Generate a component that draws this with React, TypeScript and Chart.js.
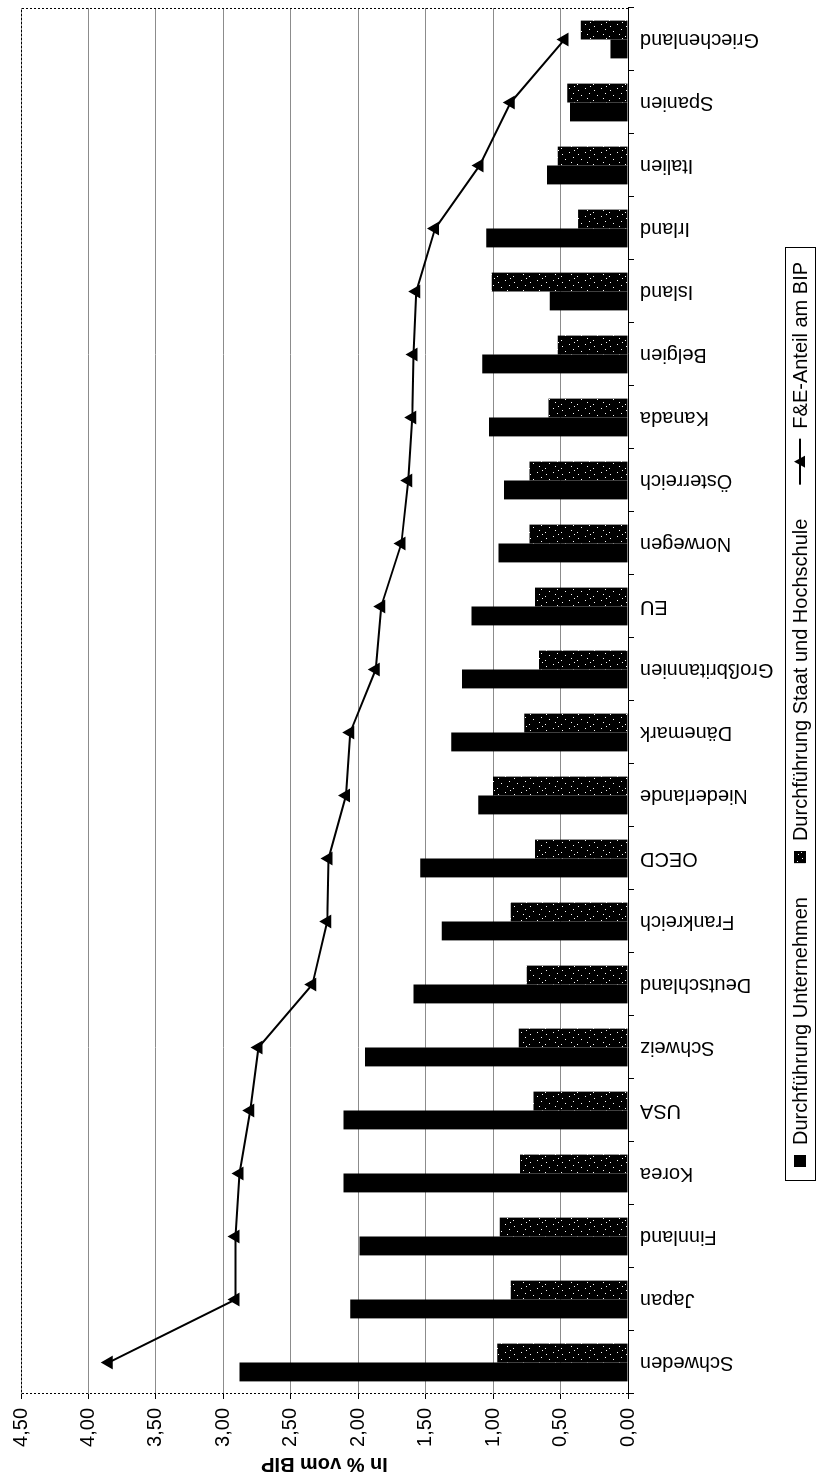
import React, { useEffect, useRef } from 'react';
import { Chart, registerables } from 'chart.js';

Chart.register(...registerables);

const categories = [
  'Schweden', 'Japan', 'Finnland', 'Korea', 'USA', 'Schweiz', 'Deutschland',
  'Frankreich', 'OECD', 'Niederlande', 'Dänemark', 'Großbritannien', 'EU',
  'Norwegen', 'Österreich', 'Kanada', 'Belgien', 'Island', 'Irland',
  'Italien', 'Spanien', 'Griechenland',
];

const unternehmen = [
  2.88, 2.06, 1.99, 2.11, 2.11, 1.95, 1.59, 1.38, 1.54, 1.11, 1.31, 1.23,
  1.16, 0.96, 0.92, 1.03, 1.08, 0.58, 1.05, 0.60, 0.43, 0.13,
];

const staatHochschule = [
  0.97, 0.87, 0.95, 0.80, 0.70, 0.81, 0.75, 0.87, 0.69, 1.00, 0.77, 0.66,
  0.69, 0.73, 0.73, 0.59, 0.52, 1.01, 0.37, 0.52, 0.45, 0.35,
];

const feAnteil = [
  3.85, 2.91, 2.91, 2.88, 2.80, 2.74, 2.34, 2.23, 2.22, 2.09, 2.06, 1.87,
  1.83, 1.68, 1.63, 1.60, 1.59, 1.57, 1.43, 1.10, 0.87, 0.47,
];

const seriesLabels = [
  'Durchführung Unternehmen',
  'Durchführung Staat und Hochschule',
  'F&E-Anteil am BIP',
];

const axisTitle = 'In % vom BIP';
const axisMin = 0;
const axisMax = 4.5;
const axisStep = 0.5;

const W = 1484;
const H = 818;
const FONT = '"Liberation Sans", Arial, sans-serif';
const FS = 20;
const LEGEND_CX = 770;
const LEGEND_CY = 800;

function makePattern(): CanvasPattern {
  const c = document.createElement('canvas');
  c.width = 16;
  c.height = 16;
  const g = c.getContext('2d')!;
  g.fillStyle = '#000';
  g.fillRect(0, 0, 16, 16);
  g.fillStyle = '#fff';
  const dots = [[1, 2], [7, 1], [12, 5], [3, 9], [9, 11], [14, 13], [5, 14]];
  dots.forEach(([x, y]) => g.fillRect(x, y, 1, 1));
  return g.createPattern(c, 'repeat')!;
}

const framePlugin = {
  id: 'frame',
  beforeDatasetsDraw(chart: any) {
    const { ctx, chartArea: a } = chart;
    ctx.save();
    ctx.strokeStyle = '#000';
    ctx.lineWidth = 1;
    ctx.setLineDash([2, 2]);
    ctx.beginPath();
    ctx.moveTo(a.left + 0.5, a.bottom);
    ctx.lineTo(a.left + 0.5, a.top + 0.5);
    ctx.lineTo(a.right - 0.5, a.top + 0.5);
    ctx.lineTo(a.right - 0.5, a.bottom);
    ctx.stroke();
    ctx.restore();
  },
};

function makeLegendPlugin(pattern: CanvasPattern) {
  return {
    id: 'customLegend',
    afterDraw(chart: any) {
      const ctx = chart.ctx as CanvasRenderingContext2D;
      ctx.save();
      ctx.font = `${FS}px ${FONT}`;
      ctx.textBaseline = 'middle';
      ctx.textAlign = 'left';
      const boxS = 12;
      const symLine = 46;
      const gap = 10;
      const itemGap = 34;
      const pad = 14;
      const items = [
        { kind: 'box', fill: '#000' as any, text: seriesLabels[0] },
        { kind: 'box', fill: pattern as any, text: seriesLabels[1] },
        { kind: 'line', fill: '#000' as any, text: seriesLabels[2] },
      ];
      const widths = items.map(
        (it) => (it.kind === 'line' ? symLine : boxS) + gap + ctx.measureText(it.text).width
      );
      const total = widths.reduce((a, b) => a + b, 0) + itemGap * (items.length - 1) + pad * 2;
      let x = Math.round(LEGEND_CX - total / 2);
      ctx.strokeStyle = '#000';
      ctx.lineWidth = 1;
      ctx.strokeRect(x + 0.5, LEGEND_CY - 15 + 0.5, Math.round(total), 30);
      x += pad;
      items.forEach((it, i) => {
        if (it.kind === 'box') {
          ctx.fillStyle = it.fill;
          ctx.fillRect(x, LEGEND_CY - boxS / 2, boxS, boxS);
          ctx.strokeRect(x + 0.5, LEGEND_CY - boxS / 2 + 0.5, boxS - 1, boxS - 1);
        } else {
          ctx.beginPath();
          ctx.moveTo(x, LEGEND_CY);
          ctx.lineTo(x + symLine, LEGEND_CY);
          ctx.lineWidth = 2;
          ctx.stroke();
          ctx.lineWidth = 1;
          const cx = x + symLine / 2;
          ctx.beginPath();
          ctx.moveTo(cx, LEGEND_CY - 6);
          ctx.lineTo(cx - 6, LEGEND_CY + 5);
          ctx.lineTo(cx + 6, LEGEND_CY + 5);
          ctx.closePath();
          ctx.fillStyle = '#000';
          ctx.fill();
        }
        const sw = it.kind === 'line' ? symLine : boxS;
        ctx.fillStyle = '#000';
        ctx.fillText(it.text, x + sw + gap, LEGEND_CY + 1);
        x += widths[i] + itemGap;
      });
      ctx.restore();
    },
  };
}

export default function App() {
  const ref = useRef<HTMLCanvasElement>(null);

  useEffect(() => {
    document.body.style.margin = '0';
    const canvas = ref.current!;
    const pattern = makePattern();
    const font = { family: FONT, size: FS };
    const chart = new Chart(canvas, {
      type: 'bar',
      data: {
        labels: categories,
        datasets: [
          {
            type: 'bar',
            label: seriesLabels[0],
            data: unternehmen,
            backgroundColor: '#000',
            borderWidth: 0,
            categoryPercentage: 0.6,
            barPercentage: 1.0,
            order: 2,
          },
          {
            type: 'bar',
            label: seriesLabels[1],
            data: staatHochschule,
            backgroundColor: pattern as any,
            borderWidth: 0,
            categoryPercentage: 0.6,
            barPercentage: 1.0,
            order: 2,
          },
          {
            type: 'line',
            label: seriesLabels[2],
            data: feAnteil,
            borderColor: '#000',
            borderWidth: 2,
            pointStyle: 'triangle',
            pointRadius: 6,
            pointBackgroundColor: '#000',
            pointBorderColor: '#000',
            tension: 0,
            order: 1,
          } as any,
        ],
      },
      options: {
        responsive: false,
        animation: false,
        devicePixelRatio: 1,
        layout: { padding: { left: 0, right: 7, top: 14, bottom: 33 } },
        plugins: { legend: { display: false }, tooltip: { enabled: false } },
        scales: {
          x: {
            offset: true,
            grid: {
              offset: true,
              drawOnChartArea: false,
              drawTicks: true,
              tickLength: 6,
              color: '#000',
            },
            border: { display: true, color: '#000', width: 1 },
            ticks: {
              autoSkip: false,
              minRotation: 90,
              maxRotation: 90,
              padding: 6,
              color: '#000',
              font,
            },
            afterFit(s: any) {
              s.height = 157;
            },
          },
          y: {
            min: axisMin,
            max: axisMax,
            ticks: {
              stepSize: axisStep,
              callback: (v: any) => Number(v).toFixed(2).replace('.', ','),
              padding: 9,
              color: '#000',
              font,
            },
            grid: { color: '#8c8c8c', tickColor: '#000', tickLength: 5 },
            border: { display: false },
            title: {
              display: true,
              text: axisTitle,
              color: '#000',
              font: { family: FONT, size: FS, weight: 'bold' },
              padding: { top: 8, bottom: 0 },
            },
            afterFit(s: any) {
              s.width = 90;
            },
          },
        },
      } as any,
      plugins: [framePlugin, makeLegendPlugin(pattern)],
    });
    return () => chart.destroy();
  }, []);

  return (
    <div
      style={{
        position: 'fixed',
        left: 0,
        top: 0,
        width: W,
        height: H,
        background: '#fff',
        transformOrigin: '0 0',
        transform: `translateY(${W}px) rotate(-90deg)`,
      }}
    >
      <canvas ref={ref} width={W} height={H} style={{ display: 'block', width: W, height: H }} />
    </div>
  );
}
